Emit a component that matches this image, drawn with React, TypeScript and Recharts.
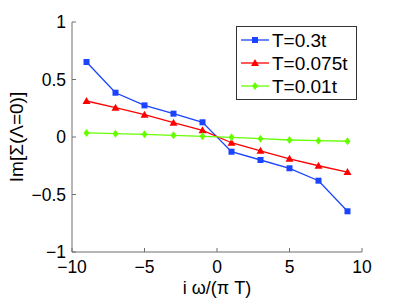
import { LineChart, Line, XAxis, YAxis } from "recharts";

const freqs = [-9, -7, -5, -3, -1, 1, 3, 5, 7, 9];
const highT = [0.652, 0.385, 0.275, 0.203, 0.128, -0.128, -0.2, -0.272, -0.38, -0.646];
const midT = [0.313, 0.255, 0.194, 0.124, 0.058, -0.05, -0.12, -0.19, -0.25, -0.305];
const lowT = [0.035, 0.029, 0.023, 0.015, 0.006, -0.003, -0.015, -0.026, -0.032, -0.037];
const xTicks = [-10, -5, 0, 5, 10];
const yTicks = [-1, -0.5, 0, 0.5, 1];

const seriesNames = ["T=0.3t", "T=0.075t", "T=0.01t"];
const colors = ["#1a44ff", "#ff0000", "#66ff00"];

const data = freqs.map((x, i) => ({ x, a: highT[i], b: midT[i], c: lowT[i] }));

const font = "'Liberation Sans', Arial, sans-serif";
const axisColor = "#6e6e6e";

const fmt = (v: number) => (v < 0 ? "\u2212" + String(-v) : String(v));

function Marker({ cx, cy, kind, color }: any) {
  if (cx == null || cy == null) return null;
  if (kind === 0) return <rect x={cx - 3} y={cy - 3} width={6} height={6} fill={color} />;
  if (kind === 1)
    return <polygon points={`${cx},${cy - 4} ${cx + 4},${cy + 3} ${cx - 4},${cy + 3}`} fill={color} />;
  return <polygon points={`${cx},${cy - 4} ${cx + 3},${cy} ${cx},${cy + 4} ${cx - 3},${cy}`} fill={color} />;
}

function YTick({ x, y, payload }: any) {
  return (
    <g>
      <line x1={x} y1={y} x2={x + 4} y2={y} stroke={axisColor} />
      <text x={x - 6} y={y} dy="0.36em" textAnchor="end" fontSize={17.5} fontFamily={font} fill="#000">
        {fmt(payload.value)}
      </text>
    </g>
  );
}

function XTick({ x, y, payload }: any) {
  return (
    <g>
      <line x1={x} y1={y} x2={x} y2={y - 4} stroke={axisColor} />
      <text x={x} y={y + 21} textAnchor="middle" fontSize={17.5} fontFamily={font} fill="#000">
        {fmt(payload.value)}
      </text>
    </g>
  );
}

function YLabel({ viewBox }: any) {
  const cy = viewBox.y + viewBox.height / 2;
  return (
    <text
      x={16}
      y={cy}
      transform={`rotate(-90, 16, ${cy})`}
      textAnchor="middle"
      dy="0.36em"
      fontSize={19}
      fontFamily={font}
      fill="#000"
    >
      {"Im[\u03a3(\u039b=0)]"}
    </text>
  );
}

function LegendBox() {
  return (
    <svg width={121} height={74} style={{ position: "absolute", left: 236, top: 26, display: "block" }}>
      <rect x={0.5} y={0.5} width={120} height={73} fill="#fff" stroke="#333" />
      {seriesNames.map((name, i) => {
        const y = 14 + i * 23;
        return (
          <g key={name}>
            <line x1={5} y1={y} x2={33} y2={y} stroke={colors[i]} strokeWidth={1.3} />
            <Marker cx={19} cy={y} kind={i} color={colors[i]} />
            <text x={36} y={y} dy="0.36em" fontSize={19} fontFamily={font} fill="#000">
              {name}
            </text>
          </g>
        );
      })}
    </svg>
  );
}

export default function App() {
  return (
    <div style={{ position: "absolute", left: 0, top: 0, width: 399, height: 298, background: "#fff" }}>
      <LineChart width={399} height={298} data={data} margin={{ top: 22, right: 37, bottom: 0, left: 32 }}>
        <XAxis
          dataKey="x"
          type="number"
          domain={[-10, 10]}
          ticks={xTicks}
          tickSize={0}
          tickMargin={0}
          tickLine={false}
          stroke={axisColor}
          tick={<XTick />}
          height={46}
          label={{ value: "i \u03c9/(\u03c0 T)", position: "insideBottom", offset: 4, fontSize: 18, fontFamily: font, fill: "#000" }}
        />
        <YAxis
          type="number"
          domain={[-1, 1]}
          ticks={yTicks}
          tickSize={0}
          tickMargin={0}
          tickLine={false}
          stroke={axisColor}
          tick={<YTick />}
          width={40}
          label={<YLabel />}
        />
        {["a", "b", "c"].map((key, i) => (
          <Line
            key={key}
            dataKey={key}
            name={seriesNames[i]}
            stroke={colors[i]}
            strokeWidth={1.3}
            isAnimationActive={false}
            dot={(p: any) => <Marker key={`${key}-${p.index}`} cx={p.cx} cy={p.cy} kind={i} color={colors[i]} />}
            activeDot={false}
          />
        ))}
      </LineChart>
      <LegendBox />
    </div>
  );
}
